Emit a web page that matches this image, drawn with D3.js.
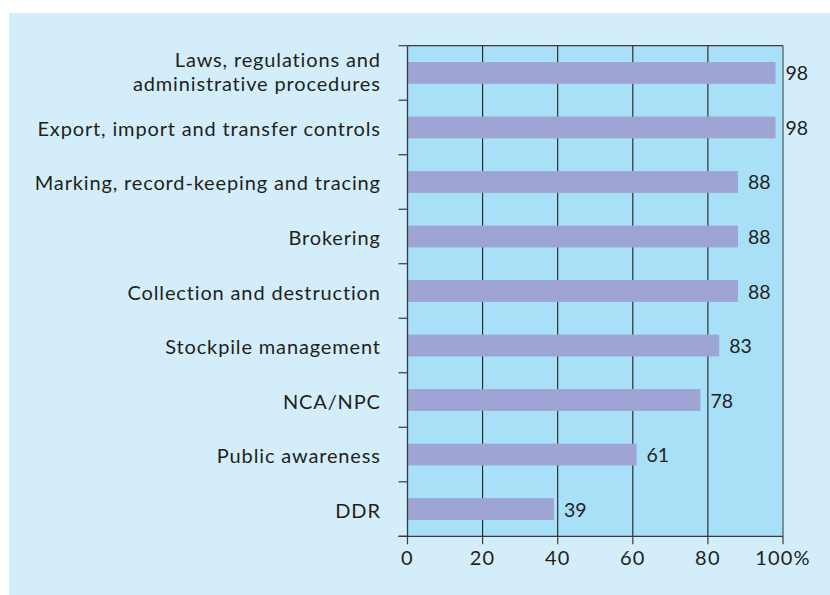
<!DOCTYPE html>
<html><head><meta charset="utf-8">
<script src="https://cdn.jsdelivr.net/npm/d3@7"></script>
<style>
html,body{margin:0;padding:0;background:#fff;}
svg{display:block;}
text{font-family:Lato,"Open Sans",sans-serif;fill:#231f20;}
</style></head>
<body>
<script>
const categories = [
  ["Laws, regulations and","administrative procedures"],
  ["Export, import and transfer controls"],
  ["Marking, record-keeping and tracing"],
  ["Brokering"],
  ["Collection and destruction"],
  ["Stockpile management"],
  ["NCA/NPC"],
  ["Public awareness"],
  ["DDR"]
];
const values = [98, 98, 88, 88, 88, 83, 78, 61, 39];
const tickValues = [0, 20, 40, 60, 80, 100];
const tickLabels = ["0", "20", "40", "60", "80", "100%"];

(function () {
const W = 830, H = 595;
const svg = d3.select("body").append("svg").attr("width", W).attr("height", H);

svg.append("rect").attr("x", 9).attr("y", 13).attr("width", W - 9).attr("height", H - 13).attr("fill", "#d3eefa");

const pLeft = 407.5, pRight = 783, pTop = 45.7, pBottom = 536.3;
const keys = categories.map((c, i) => i);
const x = d3.scaleLinear().domain([0, 100]).range([pLeft, pRight]);
const y = d3.scaleBand().domain(keys).range([pTop, pBottom]).padding(0);
const step = y.step();

svg.append("rect").attr("x", pLeft).attr("y", pTop).attr("width", pRight - pLeft).attr("height", pBottom - pTop).attr("fill", "#a8e0f8");

// gridlines
svg.append("g").selectAll("line").data(tickValues.slice(1, -1)).join("line")
  .attr("x1", d => x(d)).attr("x2", d => x(d)).attr("y1", pTop).attr("y2", pBottom)
  .attr("stroke", "#231f20").attr("stroke-width", 1.1);

// frame top/right
svg.append("line").attr("x1", pLeft).attr("x2", pRight).attr("y1", pTop).attr("y2", pTop).attr("stroke", "#3a3a3a").attr("stroke-width", 1.2);
svg.append("line").attr("x1", pRight).attr("x2", pRight).attr("y1", pTop).attr("y2", pBottom).attr("stroke", "#5a6a72").attr("stroke-width", 1.4);

// bars
svg.append("g").selectAll("rect").data(values).join("rect")
  .attr("x", x(0)).attr("y", (d, i) => y(i) + step * 0.3)
  .attr("width", d => x(d) - x(0)).attr("height", step * 0.4)
  .attr("fill", "#9ea5d4");

// value labels
svg.append("g").selectAll("text").data(values).join("text")
  .attr("x", d => x(d) + 10).attr("y", (d, i) => y(i) + step / 2 + 7.5)
  .attr("font-size", 19.5).text(d => d);

// y axis: ticks at band boundaries
const yAxisG = svg.append("g");
const bounds = keys.map(k => y(k)).concat([pBottom]);
yAxisG.append("line").attr("x1", pLeft).attr("x2", pLeft).attr("y1", pTop).attr("y2", pBottom).attr("stroke", "#3a3a3a").attr("stroke-width", 1.3);
yAxisG.selectAll("line.t").data(bounds).join("line").attr("class", "t")
  .attr("x1", pLeft - 9).attr("x2", pLeft).attr("y1", d => d).attr("y2", d => d)
  .attr("stroke", "#3a3a3a").attr("stroke-width", 1.2);

// category labels
const lab = svg.append("g").selectAll("text").data(categories).join("text")
  .attr("text-anchor", "end").attr("font-size", 20).attr("letter-spacing", "0.85px");
lab.each(function(c, i) {
  const t = d3.select(this);
  const cy = y(i) + step / 2;
  if (c.length === 1) {
    t.append("tspan").attr("x", 380.8).attr("y", cy + 8.5).text(c[0]);
  } else {
    t.append("tspan").attr("x", 380.8).attr("y", cy - 6.3).text(c[0]);
    t.append("tspan").attr("x", 380.8).attr("y", cy + 17.7).text(c[1]);
  }
});

// x axis
const xg = svg.append("g");
xg.append("line").attr("x1", pLeft - 9).attr("x2", pRight).attr("y1", pBottom).attr("y2", pBottom).attr("stroke", "#3a3a3a").attr("stroke-width", 1.3);
xg.selectAll("line.t").data(tickValues).join("line").attr("class", "t")
  .attr("x1", d => x(d)).attr("x2", d => x(d)).attr("y1", pBottom).attr("y2", pBottom + 8)
  .attr("stroke", "#3a3a3a").attr("stroke-width", 1.2);
xg.selectAll("text").data(tickValues).join("text")
  .attr("x", d => x(d)).attr("y", 565).attr("text-anchor", "middle").attr("font-size", 20)
  .attr("letter-spacing", "1.2px")
  .text((d, i) => tickLabels[i]);
})();
</script>
</body></html>
